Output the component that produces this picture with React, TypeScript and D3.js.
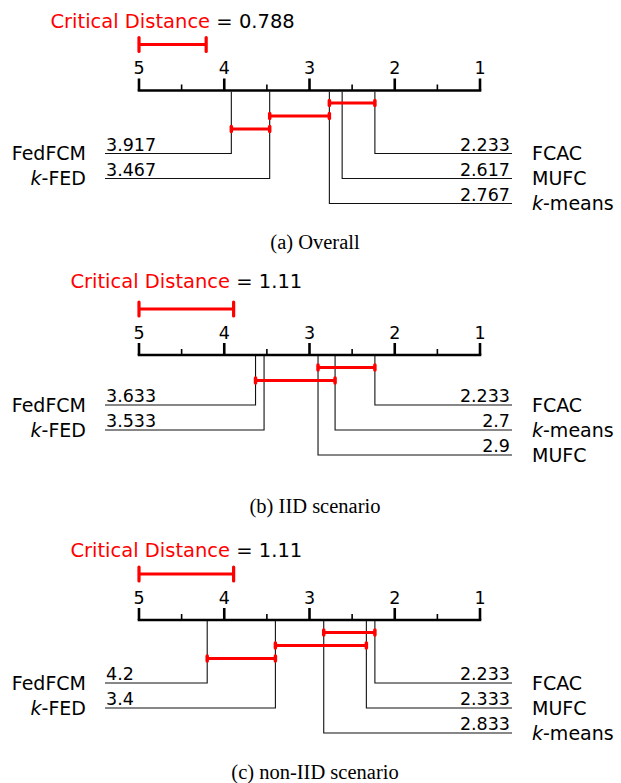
import React from "react";
import * as d3 from "d3";

// ---- data ----
const methods = ["FCAC", "MUFC", "k-means", "k-FED", "FedFCM"];
const ranksOverall = [2.233, 2.617, 2.767, 3.467, 3.917];
const ranksIID = [2.233, 2.9, 2.7, 3.533, 3.633];
const ranksNonIID = [2.233, 2.333, 2.833, 3.4, 4.2];
const cdValues = [0.788, 1.11, 1.11];
const cliquesOverall = [["FCAC", "k-means"], ["k-means", "k-FED"], ["k-FED", "FedFCM"]];
const cliquesIID = [["FCAC", "MUFC"], ["k-means", "FedFCM"]];
const cliquesNonIID = [["FCAC", "k-means"], ["MUFC", "k-FED"], ["k-FED", "FedFCM"]];
const captions = ["(a) Overall", "(b) IID scenario", "(c) non-IID scenario"];
const tickValues = [5, 4, 3, 2, 1];
const minorTicks = [4.5, 3.5, 2.5, 1.5];

const RED = "#ff0000";
const SANS = "'DejaVu Sans', sans-serif";
const SERIF = "'Liberation Serif', 'Times New Roman', serif";

const x = d3.scaleLinear().domain([5, 1]).range([139, 480]);

const layout = [
  { axisY: 90.5, titleY: 27.5, captionY: 249 },
  { axisY: 355, titleY: 287.5, captionY: 513 },
  { axisY: 620, titleY: 557, captionY: 779 },
];

function Name({ name, ...props }: any) {
  if (name.startsWith("k-")) {
    return (
      <text {...props}>
        <tspan fontStyle="italic">k</tspan>
        {name.slice(1)}
      </text>
    );
  }
  return <text {...props}>{name}</text>;
}

function Panel({ ranks, cd, cliques, caption, lay }: any) {
  const { axisY, titleY, captionY } = lay;
  const items = methods.map((m, i) => ({ name: m, rank: ranks[i] }));
  const sorted = [...items].sort((a, b) => a.rank - b.rank);
  const nRight = Math.ceil(items.length / 2);
  const right = sorted.slice(0, nRight);
  const left = sorted.slice(nRight).reverse();
  const rankOf = (n: string) => items.find((d) => d.name === n)!.rank;
  const cliqueY = (i: number) => axisY + 12.5 + 13 * i;
  const rowStart = cliqueY(cliques.length - 1) + 24.5;
  const rowY = (i: number) => rowStart + 25 * i;
  const cdY = axisY - 46;
  const cdStart = x(5);
  const cdEnd = x(5 - cd);
  const leftLineX = 105;
  const rightLineX = 512;

  return (
    <g>
      <text x={(cdStart + cdEnd) / 2} y={titleY} textAnchor="middle" fontFamily={SANS} fontSize={19.5}>
        <tspan fill={RED}>Critical Distance</tspan>
        <tspan fill="#000"> = {String(cd)}</tspan>
      </text>
      <line x1={cdStart} x2={cdEnd} y1={cdY} y2={cdY} stroke={RED} strokeWidth={3} />
      {[cdStart, cdEnd].map((cx, i) => (
        <line key={i} x1={cx} x2={cx} y1={cdY - 7} y2={cdY + 7} stroke={RED} strokeWidth={3.2} strokeLinecap="round" />
      ))}

      {tickValues.map((t) => (
        <g key={t}>
          <line x1={x(t)} x2={x(t)} y1={axisY} y2={axisY - 12} stroke="#000" strokeWidth={2.6} />
          <text x={x(t)} y={axisY - 16.5} textAnchor="middle" fontFamily={SANS} fontSize={17.5}>
            {t}
          </text>
        </g>
      ))}
      {minorTicks.map((t) => (
        <line key={t} x1={x(t)} x2={x(t)} y1={axisY} y2={axisY - 6} stroke="#000" strokeWidth={1.6} />
      ))}
      <line x1={x(5) - 1.3} x2={x(1) + 1.3} y1={axisY} y2={axisY} stroke="#000" strokeWidth={2.6} />

      {left.map((d, i) => (
        <g key={d.name}>
          <path
            d={`M${x(d.rank)},${axisY + 1}V${rowY(i)}H${leftLineX}`}
            fill="none"
            stroke="#111"
            strokeWidth={1.1}
          />
          <text x={leftLineX + 1} y={rowY(i) - 3} fontFamily={SANS} fontSize={17.5}>
            {String(d.rank)}
          </text>
          <Name name={d.name} x={86} y={rowY(i) + 6.5} textAnchor="end" fontFamily={SANS} fontSize={19} />
        </g>
      ))}
      {right.map((d, i) => (
        <g key={d.name}>
          <path
            d={`M${x(d.rank)},${axisY + 1}V${rowY(i)}H${rightLineX}`}
            fill="none"
            stroke="#111"
            strokeWidth={1.1}
          />
          <text x={rightLineX - 2} y={rowY(i) - 3} textAnchor="end" fontFamily={SANS} fontSize={17.5}>
            {String(d.rank)}
          </text>
          <Name name={d.name} x={532} y={rowY(i) + 6.5} fontFamily={SANS} fontSize={19} />
        </g>
      ))}

      {cliques.map((c: string[], i: number) => {
        const x1 = x(rankOf(c[0]));
        const x2 = x(rankOf(c[1]));
        const y = cliqueY(i);
        return (
          <g key={i}>
            <line x1={x1} x2={x2} y1={y} y2={y} stroke={RED} strokeWidth={3.2} />
            {[x1, x2].map((cx, j) => (
              <line key={j} x1={cx} x2={cx} y1={y - 2.5} y2={y + 2.5} stroke={RED} strokeWidth={3.5} strokeLinecap="round" />
            ))}
          </g>
        );
      })}

      <text x={315} y={captionY} textAnchor="middle" fontFamily={SERIF} fontSize={20.5}>
        {caption}
      </text>
    </g>
  );
}

export default function App() {
  const rankSets = [ranksOverall, ranksIID, ranksNonIID];
  const cliqueSets = [cliquesOverall, cliquesIID, cliquesNonIID];
  return (
    <svg
      width={621}
      height={783}
      viewBox="0 0 621 783"
      style={{ position: "absolute", left: 0, top: 0, background: "#fff" }}
    >
      <rect width={621} height={783} fill="#fff" />
      {rankSets.map((r, i) => (
        <Panel key={i} ranks={r} cd={cdValues[i]} cliques={cliqueSets[i]} caption={captions[i]} lay={layout[i]} />
      ))}
    </svg>
  );
}
